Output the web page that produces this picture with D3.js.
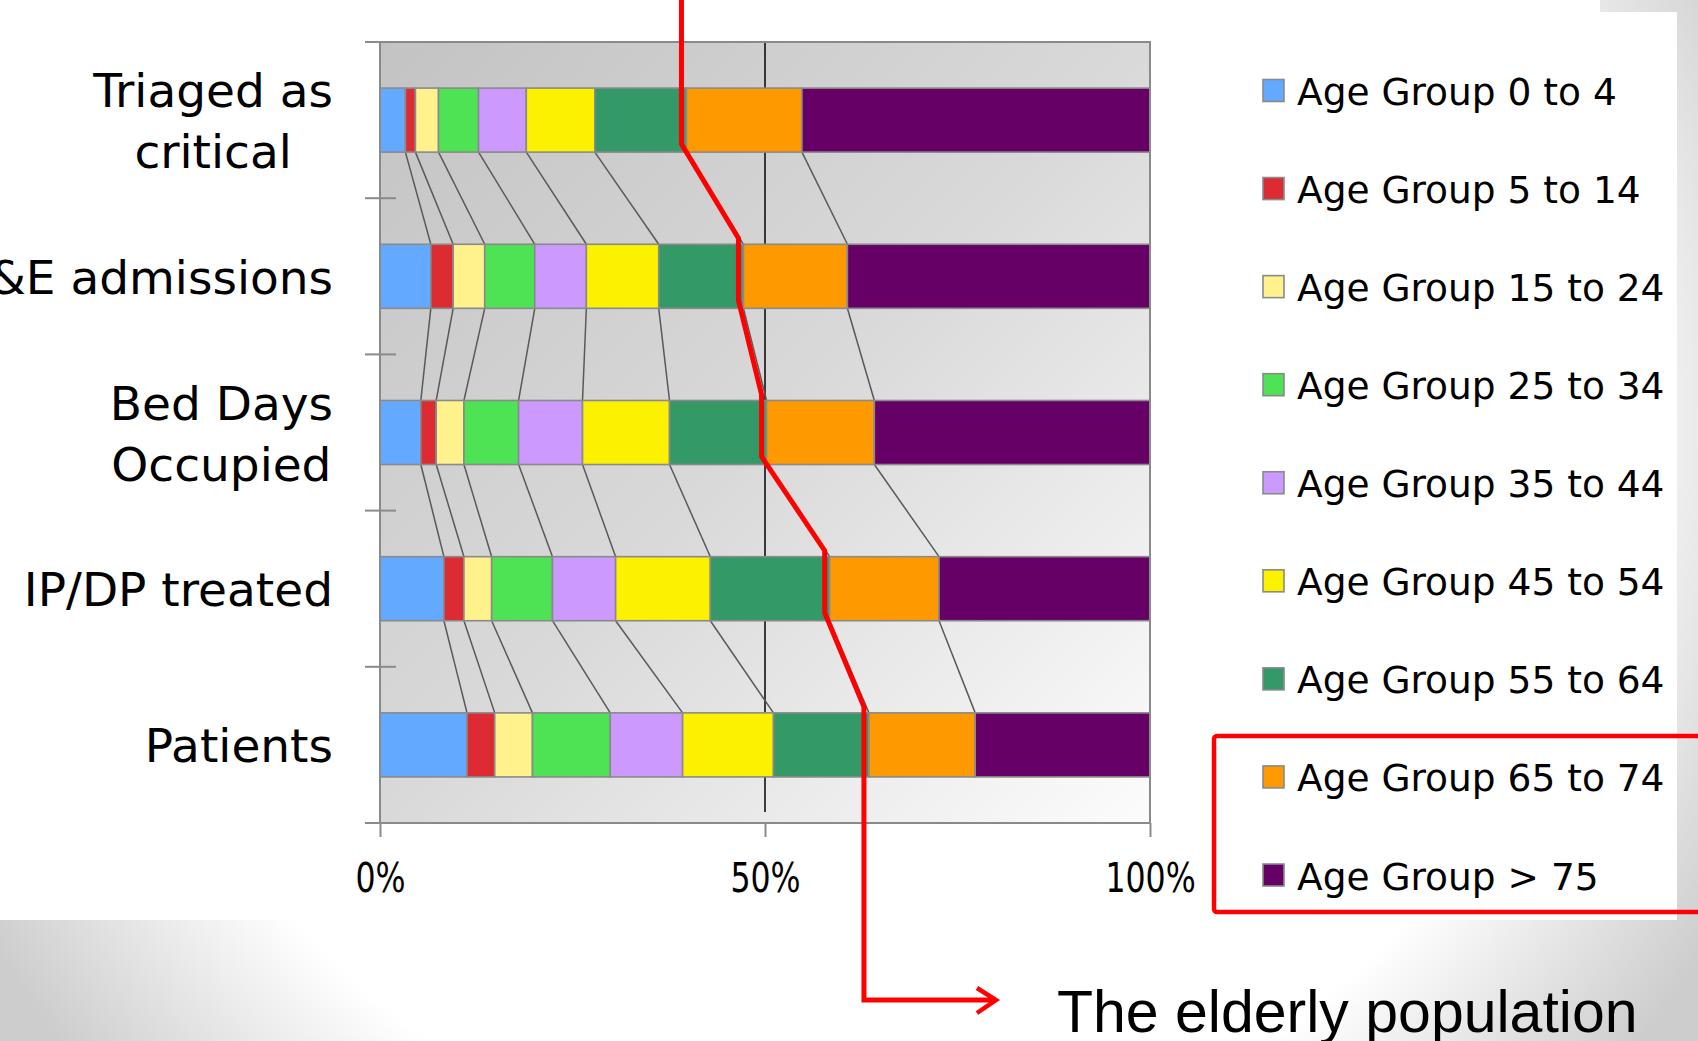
<!DOCTYPE html>
<html>
<head>
<meta charset="utf-8">
<script src="https://cdn.jsdelivr.net/npm/d3@7/dist/d3.min.js"></script>
<style>
  html, body { margin: 0; padding: 0; background: #fff; }
  svg { display: block; }
  text { font-family: "DejaVu Sans", sans-serif; fill: #000; }
</style>
</head>
<body>
<svg id="chart" width="1698" height="1041"></svg>
<script>
// Measures shown on the vertical axis (top to bottom) and their label lines
const categories = ["Triaged as critical", "A&E admissions", "Bed Days Occupied", "IP/DP treated", "Patients"];
const categoryLines = [["Triaged as", "critical"], ["A&E admissions"], ["Bed Days", "Occupied"], ["IP/DP treated"], ["Patients"]];

// Age bands (stack order, left to right)
const ageGroups = ["Age Group 0 to 4", "Age Group 5 to 14", "Age Group 15 to 24", "Age Group 25 to 34",
  "Age Group 35 to 44", "Age Group 45 to 54", "Age Group 55 to 64", "Age Group 65 to 74", "Age Group > 75"];
const ageColors = ["#63a9ff", "#dd2b33", "#fff28c", "#4ee255", "#cc99ff", "#fcf200", "#339966", "#ff9900", "#660066"];

// Share (%) of each age band within each measure
const triagedCritical = [3.3, 1.3, 3.0, 5.2, 6.2, 8.9, 11.9, 15.0, 45.2];
const aeAdmissions    = [6.6, 2.9, 4.1, 6.5, 6.7, 9.4, 11.0, 13.5, 39.3];
const bedDaysOccupied = [5.3, 2.0, 3.6, 7.1, 8.3, 11.3, 12.6, 14.0, 35.8];
const ipdpTreated     = [8.3, 2.6, 3.6, 7.9, 8.2, 12.3, 15.5, 14.2, 27.4];
const patients        = [11.3, 3.6, 4.9, 10.1, 9.4, 11.8, 12.4, 13.8, 22.7];

const xTicks = [0, 50, 100];
const xTickLabels = ["0%", "50%", "100%"];
const calloutText = "The elderly population";
const elderlyIndex = 7; // first of the two oldest bands

const seriesByCategory = [triagedCritical, aeAdmissions, bedDaysOccupied, ipdpTreated, patients];
const table = categories.map((c, i) => {
  const row = { category: c };
  ageGroups.forEach((g, j) => row[g] = seriesByCategory[i][j]);
  return row;
});

const svg = d3.select("#chart");
const defs = svg.append("defs");

// Slide backdrop: pale grey vignette behind a white chart frame
const bgGrad = defs.append("radialGradient").attr("id", "bgGrad")
  .attr("gradientUnits", "userSpaceOnUse")
  .attr("cx", 850).attr("cy", 430).attr("r", 1000);
bgGrad.append("stop").attr("offset", "0%").attr("stop-color", "#ffffff");
bgGrad.append("stop").attr("offset", "74%").attr("stop-color", "#ffffff");
bgGrad.append("stop").attr("offset", "100%").attr("stop-color", "#cdcdcd");
svg.append("rect").attr("width", 1698).attr("height", 1041).attr("fill", "url(#bgGrad)");
svg.append("rect").attr("x", 0).attr("y", 12).attr("width", 1677).attr("height", 908).attr("fill", "#fff");
svg.append("rect").attr("x", 0).attr("y", 0).attr("width", 1600).attr("height", 14).attr("fill", "#fff");

// Plot area
const plot = { left: 380, right: 1150, top: 42, bottom: 823 };
const x = d3.scaleLinear().domain([0, 100]).range([plot.left, plot.right]);
const y = d3.scaleBand().domain(categories).range([plot.top, plot.bottom])
  .paddingInner(0.59).paddingOuter(0.295);

const plotGrad = defs.append("linearGradient").attr("id", "plotGrad")
  .attr("x1", "0").attr("y1", "0").attr("x2", "1").attr("y2", "1");
plotGrad.append("stop").attr("offset", "0%").attr("stop-color", "#c3c3c3");
plotGrad.append("stop").attr("offset", "50%").attr("stop-color", "#d9d9d9");
plotGrad.append("stop").attr("offset", "100%").attr("stop-color", "#fcfcfc");
svg.append("rect")
  .attr("x", plot.left).attr("y", plot.top)
  .attr("width", plot.right - plot.left).attr("height", plot.bottom - plot.top)
  .attr("fill", "url(#plotGrad)");

// 50% gridline
svg.append("line")
  .attr("x1", x(50)).attr("x2", x(50))
  .attr("y1", plot.top).attr("y2", plot.bottom - 11)
  .attr("stroke", "#111").attr("stroke-width", 1.6);

const stacked = d3.stack().keys(ageGroups)(table);

// Series lines joining each boundary from one bar to the next
const gap = (y.step() - y.bandwidth()) / 2;
const connectors = svg.append("g").attr("stroke", "#595959").attr("stroke-width", 1.5).attr("fill", "none");
stacked.slice(0, ageGroups.length - 1).forEach(layer => {
  for (let c = 0; c < categories.length - 1; c++) {
    connectors.append("line")
      .attr("x1", x(layer[c][1])).attr("y1", y(categories[c]) + y.bandwidth())
      .attr("x2", x(layer[c + 1][1])).attr("y2", y(categories[c + 1]));
  }
});

// Stacked bars
svg.append("g").selectAll("g").data(stacked).join("g")
  .attr("fill", (d, i) => ageColors[i])
  .selectAll("rect").data(d => d).join("rect")
  .attr("x", d => x(d[0]))
  .attr("y", d => y(d.data.category))
  .attr("width", d => x(d[1]) - x(d[0]))
  .attr("height", y.bandwidth())
  .attr("stroke", "#8a8a8a").attr("stroke-width", 1.6);

// Plot frame
svg.append("rect")
  .attr("x", plot.left).attr("y", plot.top)
  .attr("width", plot.right - plot.left).attr("height", plot.bottom - plot.top)
  .attr("fill", "none").attr("stroke", "#8a8a8a").attr("stroke-width", 2);

// Category tick marks crossing the vertical axis at band boundaries
const boundaries = categories.map(c => y(c) - gap).concat([y(categories[categories.length - 1]) + y.bandwidth() + gap]);
svg.append("g").selectAll("line").data(boundaries).join("line")
  .attr("x1", plot.left - 15).attr("x2", (d, i) => (i === 0 || i === boundaries.length - 1) ? plot.left : plot.left + 16)
  .attr("y1", d => d).attr("y2", d => d)
  .attr("stroke", "#8a8a8a").attr("stroke-width", 2);

// Horizontal axis
const xAxis = svg.append("g")
  .attr("transform", `translate(0,${plot.bottom})`)
  .call(d3.axisBottom(x).tickValues(xTicks).tickSize(14).tickFormat((d, i) => xTickLabels[i]));
xAxis.select(".domain").remove();
xAxis.selectAll(".tick line").attr("stroke", "#8a8a8a").attr("stroke-width", 2);
xAxis.selectAll(".tick text")
  .attr("y", 0).attr("dy", "69px")
  .attr("font-family", "DejaVu Sans").attr("font-size", 41)
  .attr("transform", "scale(0.77,1)")
  .attr("fill", "#000");

// Category labels: block right-aligned, lines centred within the block
const labelRight = 333;
categoryLines.forEach((lines, i) => {
  const cy = y(categories[i]) + y.bandwidth() / 2;
  const g = svg.append("g");
  const texts = lines.map(l => g.append("text").attr("font-size", 47).text(l));
  const maxW = d3.max(texts, t => t.node().getComputedTextLength());
  const lineH = 61;
  const firstBaseline = cy + 17.5 - (lines.length - 1) * lineH / 2;
  texts.forEach((t, k) => t
    .attr("text-anchor", "middle")
    .attr("x", labelRight - maxW / 2)
    .attr("y", firstBaseline + k * lineH));
});

// Legend
const legendRowY = d3.scalePoint().domain(ageGroups).range([90.5, 875]);
const legend = svg.append("g");
ageGroups.forEach((g, i) => {
  const cy = legendRowY(g);
  legend.append("rect")
    .attr("x", 1263).attr("y", cy - 11).attr("width", 21).attr("height", 22)
    .attr("fill", ageColors[i]).attr("stroke", "#8a8a8a").attr("stroke-width", 1.6);
  legend.append("text")
    .attr("x", 1297).attr("y", cy + 14.5)
    .attr("font-size", 37.5).text(g);
});

// Highlight box around the two oldest bands
svg.append("rect")
  .attr("x", 1214).attr("y", legendRowY(ageGroups[elderlyIndex]) - 41)
  .attr("width", 520).attr("height", 176)
  .attr("rx", 3)
  .attr("fill", "none").attr("stroke", "#ff0000").attr("stroke-width", 4.5);

// Red trace along the start of the 65+ share in every bar
const start65 = stacked[elderlyIndex];
const pts = [];
categories.forEach((c, i) => {
  const xx = x(start65[i][0]) - 5;
  const top = i === 0 ? 0 : y(c) - 6;
  const bottom = i === categories.length - 1 ? 1000 : y(c) + y.bandwidth() - 8;
  pts.push([xx, top], [xx, bottom]);
});
const arrowTip = 996;
pts.push([arrowTip, 1000]);
svg.append("path")
  .attr("d", d3.line()(pts))
  .attr("fill", "none").attr("stroke", "#ff0000").attr("stroke-width", 5)
  .attr("stroke-linejoin", "miter");
svg.append("path")
  .attr("d", d3.line()([[arrowTip - 19, 988], [arrowTip, 1000], [arrowTip - 19, 1013]]))
  .attr("fill", "none").attr("stroke", "#ff0000").attr("stroke-width", 4.5);

svg.append("text")
  .attr("x", 1057).attr("y", 1032)
  .style("font-family", "'Liberation Sans', Arial, sans-serif")
  .attr("font-size", 59)
  .text(calloutText);
</script>
</body>
</html>
